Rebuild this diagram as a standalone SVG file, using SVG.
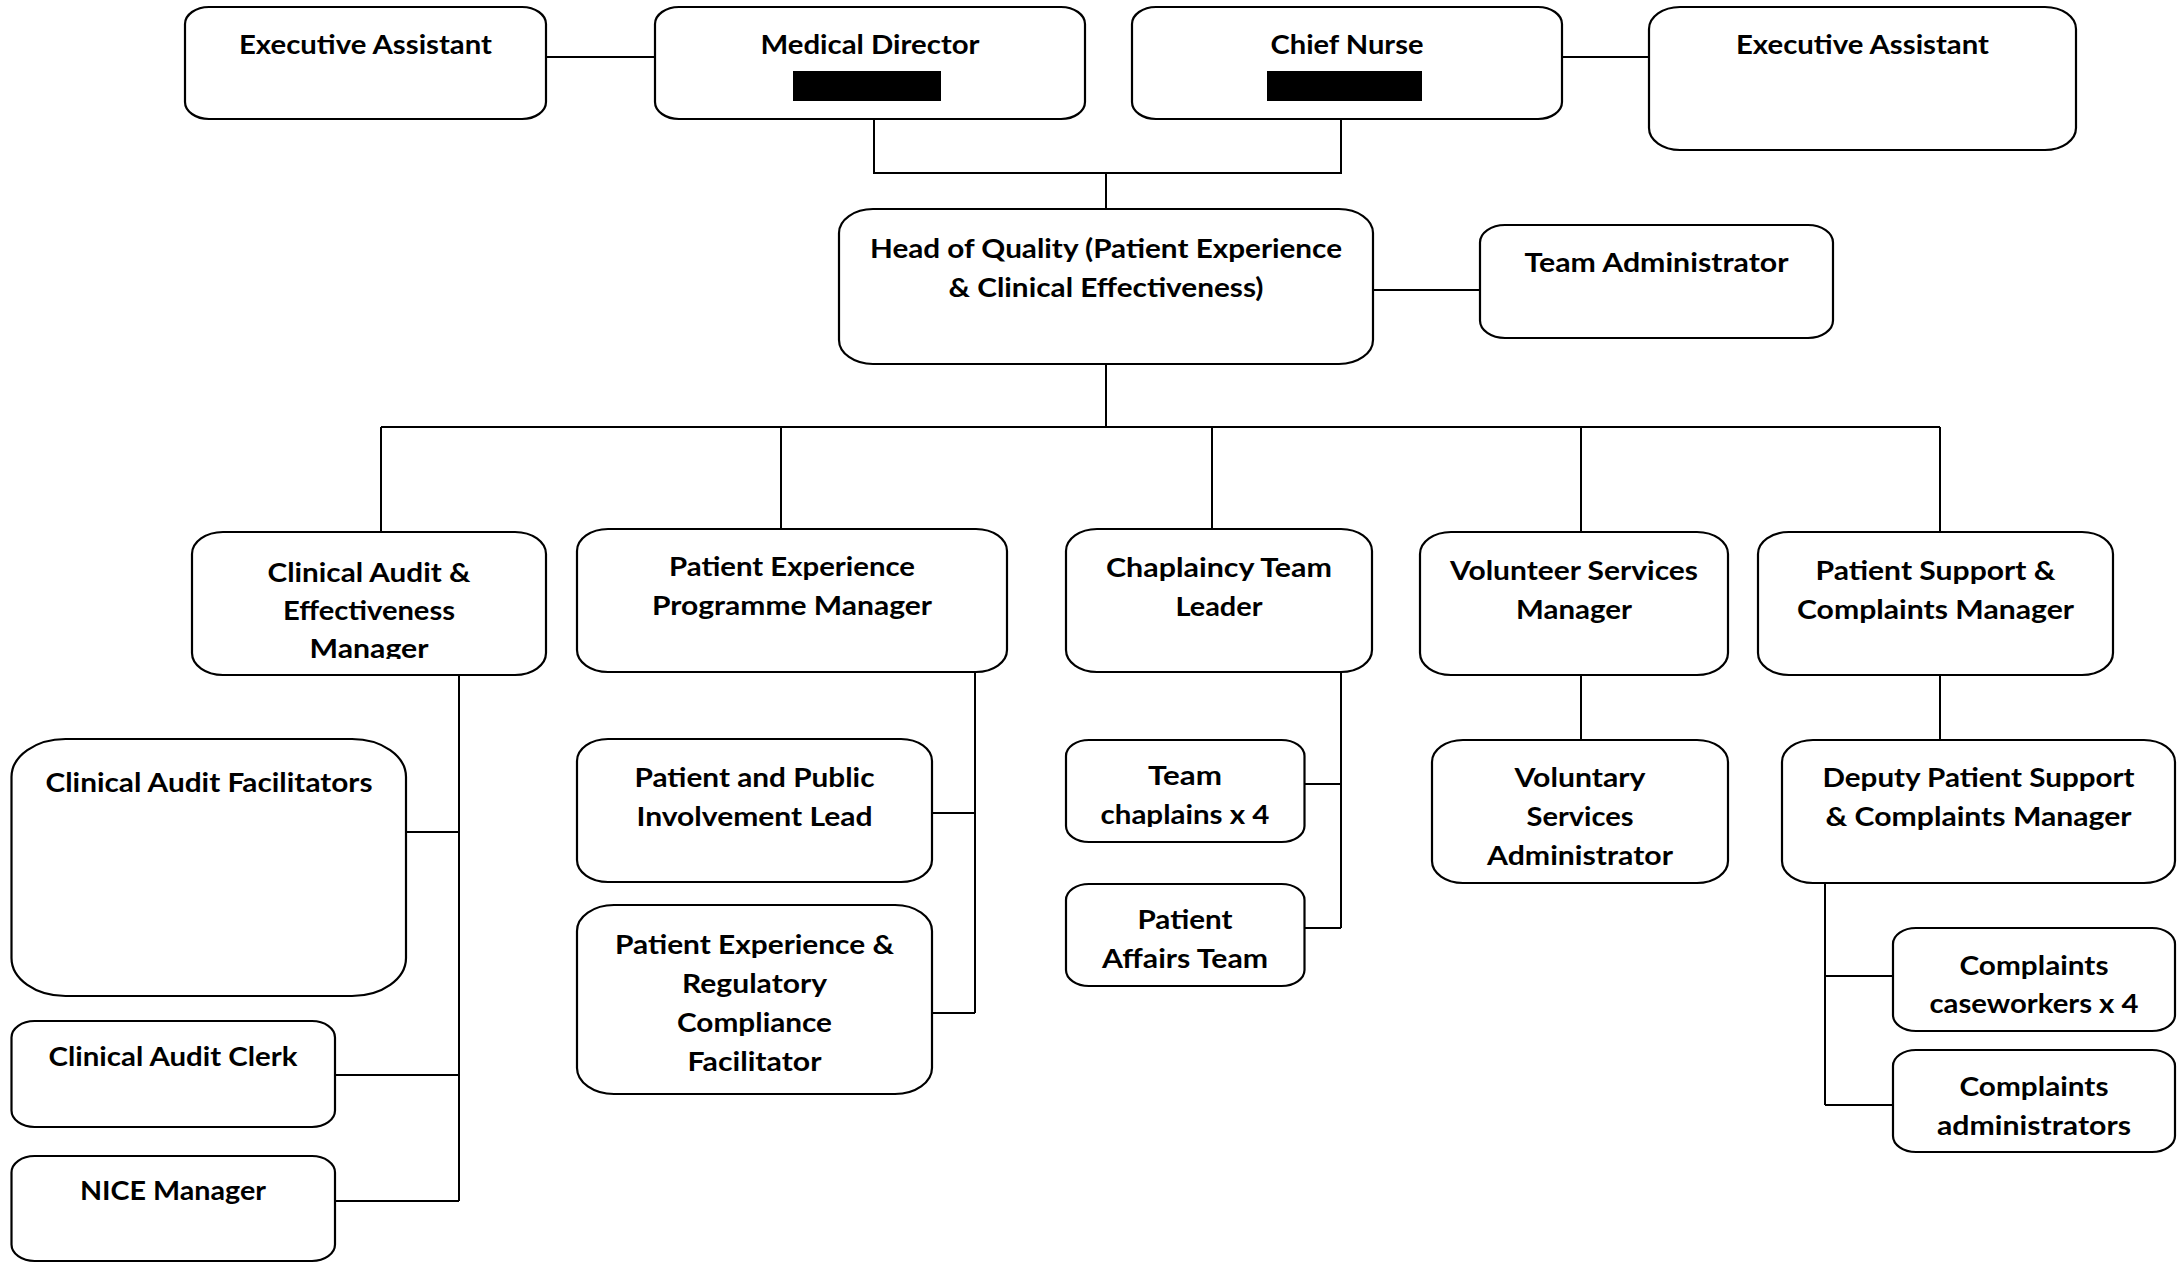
<svg xmlns="http://www.w3.org/2000/svg" width="2179" height="1263" viewBox="0 0 2179 1263">
<style>
.box{fill:#fff;stroke:#000;stroke-width:2.2}
.t{font-family:Lato,"Liberation Sans",sans-serif;font-weight:bold;font-size:26.5px;text-anchor:middle;fill:#000}
.c{stroke:#000;stroke-width:2;fill:none}
.red{fill:#000}
</style>
<defs>
<clipPath id="clipCaem"><rect x="192" y="532" width="354" height="127"/></clipPath>
<clipPath id="clipTch"><rect x="1066" y="740" width="239" height="87"/></clipPath>
</defs>
<rect width="2179" height="1263" fill="#fff"/>
<g id="connectors">
<path class="c" d="M546,57 H655"/>
<path class="c" d="M1562,57 H1649"/>
<path class="c" d="M874,119 V173 H1341 V119"/>
<path class="c" d="M1106,173 V209"/>
<path class="c" d="M1373,290 H1480"/>
<path class="c" d="M1106,364 V427"/>
<path class="c" d="M381,427 H1940"/>
<path class="c" d="M381,427 V532 M781,427 V529 M1212,427 V529 M1581,427 V532 M1940,427 V532"/>
<path class="c" d="M459,675 V1201 M406,832 H459 M335,1075 H459 M335,1201 H459"/>
<path class="c" d="M975,672 V1013 M932,813 H975 M932,1013 H975"/>
<path class="c" d="M1341,672 V928 M1304,784 H1341 M1304,928 H1341"/>
<path class="c" d="M1581,675 V740"/>
<path class="c" d="M1940,675 V740"/>
<path class="c" d="M1825,883 V1105 M1825,976 H1893 M1825,1105 H1893"/>
</g>
<g id="ea1"><rect class="box" x="185" y="7" width="361" height="112" rx="24" ry="17"/>
<text class="t" x="365.5" y="54" textLength="253" lengthAdjust="spacingAndGlyphs">Executive Assistant</text></g>
<g id="md"><rect class="box" x="655" y="7" width="430" height="112" rx="24" ry="17"/>
<text class="t" x="870" y="54" textLength="219" lengthAdjust="spacingAndGlyphs">Medical Director</text>
<rect class="red" x="793" y="71" width="148" height="30"/></g>
<g id="cn"><rect class="box" x="1132" y="7" width="430" height="112" rx="24" ry="17"/>
<text class="t" x="1347" y="54" textLength="153" lengthAdjust="spacingAndGlyphs">Chief Nurse</text>
<rect class="red" x="1267" y="71" width="155" height="30"/></g>
<g id="ea2"><rect class="box" x="1649" y="7" width="427" height="143" rx="31" ry="22"/>
<text class="t" x="1862.5" y="54" textLength="253" lengthAdjust="spacingAndGlyphs">Executive Assistant</text></g>
<g id="hoq"><rect class="box" x="839" y="209" width="534" height="155" rx="34" ry="24"/>
<text class="t" x="1106" y="258" textLength="472" lengthAdjust="spacingAndGlyphs">Head of Quality (Patient Experience</text>
<text class="t" x="1106" y="297" textLength="315" lengthAdjust="spacingAndGlyphs">&amp; Clinical Effectiveness)</text></g>
<g id="ta"><rect class="box" x="1480" y="225" width="353" height="113" rx="25" ry="17.5"/>
<text class="t" x="1656.5" y="272" textLength="264" lengthAdjust="spacingAndGlyphs">Team Administrator</text></g>
<g id="caem"><rect class="box" x="192" y="532" width="354" height="143" rx="31" ry="22"/>
<text class="t" x="369" y="582" textLength="203" lengthAdjust="spacingAndGlyphs">Clinical Audit &amp;</text>
<text class="t" x="369" y="620" textLength="172" lengthAdjust="spacingAndGlyphs">Effectiveness</text>
<text class="t" x="369" y="658" textLength="119" lengthAdjust="spacingAndGlyphs" clip-path="url(#clipCaem)">Manager</text></g>
<g id="pepm"><rect class="box" x="577" y="529" width="430" height="143" rx="31" ry="22"/>
<text class="t" x="792" y="576" textLength="246" lengthAdjust="spacingAndGlyphs">Patient Experience</text>
<text class="t" x="792" y="615" textLength="280" lengthAdjust="spacingAndGlyphs">Programme Manager</text></g>
<g id="ctl"><rect class="box" x="1066" y="529" width="306" height="143" rx="31" ry="22"/>
<text class="t" x="1219" y="577" textLength="226" lengthAdjust="spacingAndGlyphs">Chaplaincy Team</text>
<text class="t" x="1219" y="616" textLength="87" lengthAdjust="spacingAndGlyphs">Leader</text></g>
<g id="vsm"><rect class="box" x="1420" y="532" width="308" height="143" rx="31" ry="22"/>
<text class="t" x="1574" y="580" textLength="248" lengthAdjust="spacingAndGlyphs">Volunteer Services</text>
<text class="t" x="1574" y="619" textLength="116" lengthAdjust="spacingAndGlyphs">Manager</text></g>
<g id="pscm"><rect class="box" x="1758" y="532" width="355" height="143" rx="31" ry="22"/>
<text class="t" x="1935.5" y="580" textLength="240" lengthAdjust="spacingAndGlyphs">Patient Support &amp;</text>
<text class="t" x="1935.5" y="619" textLength="277" lengthAdjust="spacingAndGlyphs">Complaints Manager</text></g>
<g id="caf"><rect class="box" x="11.5" y="739" width="394.5" height="257" rx="54" ry="38"/>
<text class="t" x="209" y="792" textLength="327" lengthAdjust="spacingAndGlyphs">Clinical Audit Facilitators</text></g>
<g id="cac"><rect class="box" x="11.5" y="1021" width="323.5" height="106" rx="23" ry="16.5"/>
<text class="t" x="173" y="1066" textLength="249" lengthAdjust="spacingAndGlyphs">Clinical Audit Clerk</text></g>
<g id="nice"><rect class="box" x="11.5" y="1156" width="323.5" height="105" rx="23" ry="16.5"/>
<text class="t" x="173" y="1200" textLength="186" lengthAdjust="spacingAndGlyphs">NICE Manager</text></g>
<g id="ppi"><rect class="box" x="577" y="739" width="355" height="143" rx="31" ry="22"/>
<text class="t" x="754.5" y="787" textLength="240" lengthAdjust="spacingAndGlyphs">Patient and Public</text>
<text class="t" x="754.5" y="826" textLength="236" lengthAdjust="spacingAndGlyphs">Involvement Lead</text></g>
<g id="percf"><rect class="box" x="577" y="905" width="355" height="189" rx="37" ry="26"/>
<text class="t" x="754.5" y="954" textLength="279" lengthAdjust="spacingAndGlyphs">Patient Experience &amp;</text>
<text class="t" x="754.5" y="993" textLength="145" lengthAdjust="spacingAndGlyphs">Regulatory</text>
<text class="t" x="754.5" y="1032" textLength="155" lengthAdjust="spacingAndGlyphs">Compliance</text>
<text class="t" x="754.5" y="1071" textLength="134" lengthAdjust="spacingAndGlyphs">Facilitator</text></g>
<g id="tch"><rect class="box" x="1066" y="740" width="238.5" height="102" rx="23" ry="16"/>
<text class="t" x="1185" y="785" textLength="74" lengthAdjust="spacingAndGlyphs">Team</text>
<text class="t" x="1185" y="824" textLength="169" lengthAdjust="spacingAndGlyphs" clip-path="url(#clipTch)">chaplains x 4</text></g>
<g id="pat"><rect class="box" x="1066" y="884" width="238.5" height="102" rx="23" ry="16"/>
<text class="t" x="1185" y="929" textLength="95" lengthAdjust="spacingAndGlyphs">Patient</text>
<text class="t" x="1185" y="968" textLength="166" lengthAdjust="spacingAndGlyphs">Affairs Team</text></g>
<g id="vsa"><rect class="box" x="1432" y="740" width="296" height="143" rx="31" ry="22"/>
<text class="t" x="1580" y="787" textLength="131" lengthAdjust="spacingAndGlyphs">Voluntary</text>
<text class="t" x="1580" y="826" textLength="107" lengthAdjust="spacingAndGlyphs">Services</text>
<text class="t" x="1580" y="865" textLength="186" lengthAdjust="spacingAndGlyphs">Administrator</text></g>
<g id="dpscm"><rect class="box" x="1782" y="740" width="393" height="143" rx="31" ry="22"/>
<text class="t" x="1978.5" y="787" textLength="312" lengthAdjust="spacingAndGlyphs">Deputy Patient Support</text>
<text class="t" x="1978.5" y="826" textLength="306" lengthAdjust="spacingAndGlyphs">&amp; Complaints Manager</text></g>
<g id="ccw"><rect class="box" x="1893" y="928" width="282" height="103" rx="23" ry="16"/>
<text class="t" x="2034" y="975" textLength="149" lengthAdjust="spacingAndGlyphs">Complaints</text>
<text class="t" x="2034" y="1013" textLength="209" lengthAdjust="spacingAndGlyphs">caseworkers x 4</text></g>
<g id="cad"><rect class="box" x="1893" y="1050" width="282" height="102" rx="23" ry="16"/>
<text class="t" x="2034" y="1096" textLength="149" lengthAdjust="spacingAndGlyphs">Complaints</text>
<text class="t" x="2034" y="1135" textLength="194" lengthAdjust="spacingAndGlyphs">administrators</text></g>
</svg>
